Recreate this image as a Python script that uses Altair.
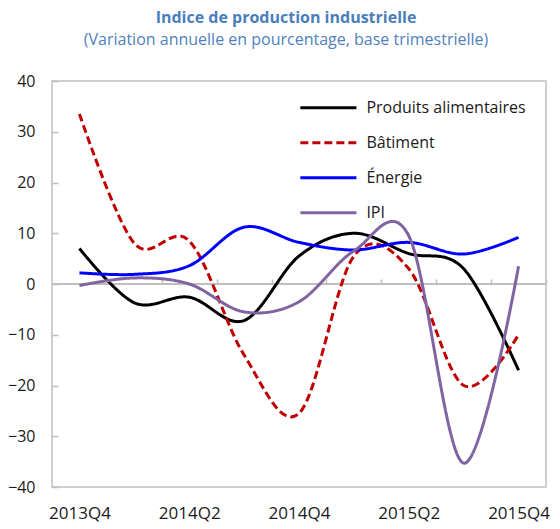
import altair as alt
import pandas as pd

quarters = ["2013Q4", "2014Q1", "2014Q2", "2014Q3", "2014Q4",
            "2015Q1", "2015Q2", "2015Q3", "2015Q4"]
label_quarters = ["2013Q4", "2014Q2", "2014Q4", "2015Q2", "2015Q4"]
series = ["Produits alimentaires", "Bâtiment", "Énergie", "IPI"]
colors = ["#000000", "#C00000", "#0000FF", "#8064A2"]
dashes = [[1, 0], [8, 4], [1, 0], [1, 0]]

alimentaires = [7.0, -3.7, -2.6, -7.2, 5.5, 10.0, 6.0, 3.0, -17.0]
batiment = [33.5, 8.0, 8.5, -14.0, -25.5, 5.5, 3.0, -20.0, -10.0]
energie = [2.2, 1.9, 3.6, 11.2, 8.2, 6.7, 8.2, 5.9, 9.2]
ipi = [-0.3, 1.2, 0.0, -5.5, -3.5, 6.5, 9.5, -35.3, 3.5]
y_ticks = [-40, -30, -20, -10, 0, 10, 20, 30, 40]

rows = []
for name, vals in zip(series, [alimentaires, batiment, energie, ipi]):
    for q, v in zip(quarters, vals):
        rows.append({"trimestre": q, "serie": name, "valeur": v})
df = pd.DataFrame(rows)

FONT = "Open Sans"
GRAY = "#BFBFBF"
TXT = "#1a1a1a"
W, H = 494, 406

xscale = alt.Scale(type="point", domain=quarters, padding=0.5)
yscale = alt.Scale(domain=[-40, 40], nice=False, zero=False)

zero_rule = alt.Chart(df).mark_rule(color=GRAY, strokeWidth=1.5).encode(
    y=alt.datum(0, scale=yscale, axis=None)
)

tick_layer = alt.Chart(df).mark_line(opacity=0).encode(
    x=alt.X("trimestre:N", sort=quarters, scale=xscale,
            axis=alt.Axis(orient="top", offset=-(H / 2), labels=False,
                          domain=False, ticks=True, tickSize=5, tickColor=GRAY,
                          tickWidth=1.5, tickOffset=W / 18, title=None, grid=False)),
    y=alt.Y("valeur:Q", scale=yscale,
            axis=alt.Axis(orient="right", offset=-W, labels=False, domain=False,
                          ticks=True, tickSize=6, tickColor=GRAY, tickWidth=1.5,
                          values=y_ticks, title=None, grid=False)),
    detail="serie:N",
)

lines = alt.Chart(df).mark_line(interpolate="cardinal", strokeWidth=3).encode(
    x=alt.X("trimestre:N", sort=quarters, scale=xscale,
            axis=alt.Axis(orient="bottom", values=label_quarters, labelAngle=0,
                          ticks=False, domain=False, labelPadding=18,
                          labelFontSize=17, labelColor=TXT, labelFont=FONT,
                          title=None, grid=False)),
    y=alt.Y("valeur:Q", scale=yscale,
            axis=alt.Axis(orient="left", values=y_ticks, ticks=False, domain=False,
                          labelPadding=17, labelFontSize=16, labelColor=TXT,
                          labelFont=FONT, title=None, grid=False)),
    color=alt.Color("serie:N", sort=series,
                    scale=alt.Scale(domain=series, range=colors),
                    legend=alt.Legend(title=None, orient="none", legendX=249.4,
                                      legendY=-0.3, direction="vertical", columns=1,
                                      symbolType="M-1.1,0H1.1",
                                      symbolSize=2600, symbolStrokeWidth=3,
                                      labelFontSize=16, labelFont=FONT,
                                      labelColor=TXT, labelOffset=11,
                                      labelLimit=300, rowPadding=0)),
    strokeDash=alt.StrokeDash("serie:N", sort=series,
                              scale=alt.Scale(domain=series, range=dashes),
                              legend=None),
)

chart = alt.layer(zero_rule, tick_layer, lines).resolve_axis(
    x="independent", y="independent"
).properties(
    width=W,
    height=H,
    autosize=alt.AutoSizeParams(type="none"),
    padding={"left": 44, "top": 73, "right": 6, "bottom": 42},
    title=alt.TitleParams(
        text="Indice de production industrielle",
        subtitle="(Variation annuelle en pourcentage, base trimestrielle)",
        anchor="middle", frame="group", dx=-13, offset=25,
        font=FONT, fontSize=16, fontWeight="bold", color="#4A7EBB",
        subtitleFont=FONT, subtitleFontSize=16, subtitleColor="#4F81BD",
        subtitlePadding=6,
    ),
).configure_view(stroke=GRAY, strokeWidth=1.5)

chart.save("out.html", embed_options={"renderer": "svg", "actions": False})
